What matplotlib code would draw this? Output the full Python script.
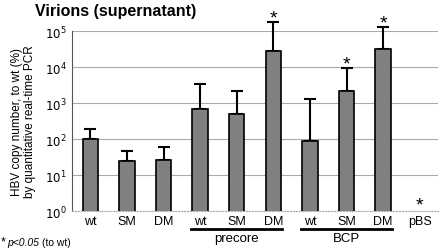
import matplotlib
matplotlib.use('Agg')
import matplotlib.pyplot as plt
import matplotlib.transforms as mtransforms
import numpy as np

plt.rcParams['font.family'] = ['Liberation Sans', 'DejaVu Sans']

# data
labels = ['wt', 'SM', 'DM', 'wt', 'SM', 'DM', 'wt', 'SM', 'DM', 'pBS']
values = [100, 25, 26, 680, 500, 27000, 90, 2100, 32000, np.nan]
upper = [190, 47, 60, 3400, 2200, 180000, 1300, 9400, 130000, np.nan]
signif = [False, False, False, False, False, True, False, True, True, True]
groups = [('precore', 3, 5), ('BCP', 6, 8)]

fig = plt.figure(figsize=(4.4, 2.53), dpi=100)
ax = fig.add_axes([0.1636, 0.162, 0.832, 0.7115])

x = np.arange(len(labels))
vals = np.array(values, dtype=float)
ups = np.array(upper, dtype=float)

ax.set_yscale('log')
ax.set_ylim(1, 1e5)
ax.set_xlim(-0.5, len(labels) - 0.5)

ax.bar(x, np.nan_to_num(vals, nan=0), width=0.42, color='#808080',
       edgecolor='black', linewidth=1.2, zorder=3)
eb = ax.errorbar(x, vals, yerr=[np.zeros_like(vals), ups - vals], fmt='none',
                 ecolor='black', elinewidth=1.5, capsize=4, capthick=1.5, zorder=2)
for art in eb.lines[1] + eb.lines[2]:
    art.set_clip_on(False)

# significance stars
for i, s in enumerate(signif):
    if not s:
        continue
    y = 1.0 if np.isnan(ups[i]) else ups[i]
    ax.annotate('*', (i, y), xytext=(0, -2 if np.isnan(ups[i]) else -3),
                textcoords='offset points', ha='center', va='bottom',
                fontsize=14, annotation_clip=False)

ax.grid(axis='y', color='#aaaaaa', linewidth=0.8, zorder=0)
ax.minorticks_off()
ax.set_yticks([1, 10, 100, 1e3, 1e4, 1e5])
ax.set_yticklabels([r'$10^{%d}$' % k for k in range(6)])
ax.tick_params(axis='y', length=0, labelsize=8.5, pad=4)
ax.set_xticks(x)
ax.set_xticklabels(labels)
ax.tick_params(axis='x', length=0, labelsize=9, pad=3)
for s in ['top', 'right']:
    ax.spines[s].set_visible(False)
ax.spines['bottom'].set_color('#aaaaaa')
ax.spines['bottom'].set_linestyle(':')
ax.spines['left'].set_color('#555555')

ax.set_ylabel('HBV copy number, to wt (%)\nby quantitative real-time PCR',
              fontsize=8.5, labelpad=6, linespacing=1.1)

# group lines under the category labels
trans = mtransforms.blended_transform_factory(ax.transData, ax.transAxes)
for name, a, b in groups:
    ax.plot([a - 0.25, b + 0.25], [-0.1, -0.1], color='black', linewidth=2,
            clip_on=False, transform=trans)
    ax.text((a + b) / 2, -0.115, name, ha='center', va='top', fontsize=9.5,
            transform=trans)

fig.text(0.08, 0.985, 'Virions (supernatant)', fontsize=11.5, fontweight='bold',
         va='top')
fig.text(0.002, 0.02, '*', fontsize=9, va='bottom')
fig.text(0.017, 0.02, 'p<0.05', fontsize=7.5, style='italic', va='bottom')
fig.text(0.095, 0.02, '(to wt)', fontsize=7.5, va='bottom')

fig.savefig('out.png', dpi=100)
